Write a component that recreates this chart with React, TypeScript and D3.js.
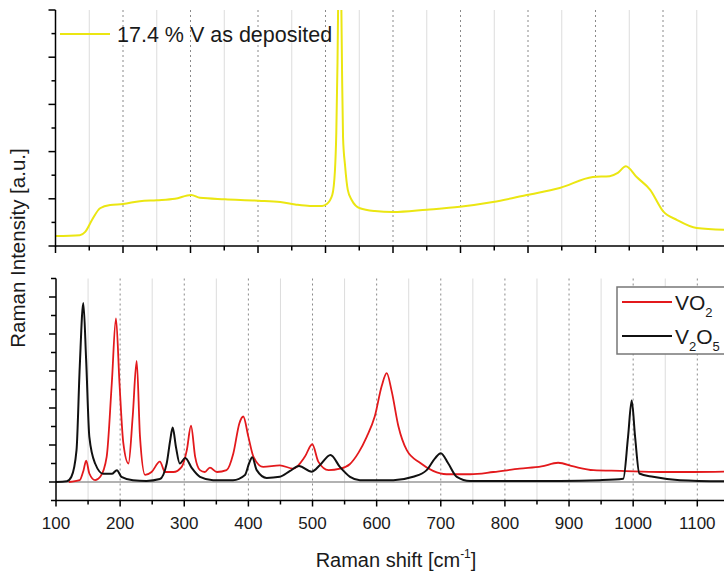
import React from "react";
import * as d3 from "d3";

// ---- Data ----
const sampleLabel = "17.4 % V as deposited";

// Top panel: as-deposited film (wavenumber cm^-1, intensity a.u.)
const depositedShift = [100, 136, 144, 154, 166, 181, 200, 225, 250, 277, 301, 314, 351, 401, 433, 455, 477, 495, 502, 510, 514, 516, 517.8, 518.8, 521.2, 523.4, 524.6, 526, 529, 533, 539, 551, 573, 600, 650, 699, 748, 798, 847, 896, 921, 933, 945, 961, 981, 1000, 1021, 1050, 1095];
const depositedIntensity = [0.21, 0.23, 0.3, 0.55, 0.8, 0.87, 0.89, 0.95, 0.97, 1.0, 1.08, 1.02, 0.99, 0.96, 0.93, 0.88, 0.85, 0.85, 0.89, 1.08, 1.6, 2.4, 3.9, 5.2, 7.5, 5.2, 3.6, 2.3, 1.7, 1.19, 0.97, 0.8, 0.74, 0.72, 0.77, 0.83, 0.93, 1.08, 1.23, 1.46, 1.48, 1.55, 1.69, 1.46, 1.19, 0.74, 0.55, 0.38, 0.34];

// Bottom panel: VO2 reference
const vo2Shift = [120, 137, 143, 147, 152, 161, 169, 179, 187, 193.5, 199, 205, 213, 219.6, 225.8, 231, 239, 249, 262, 270, 283, 296, 304, 310.5, 317, 324.5, 332, 340, 351, 366, 376.5, 386, 392, 400, 408, 423, 449, 470, 488, 499.6, 509, 525, 543, 558, 572, 584.5, 597, 608, 615.7, 623.5, 634, 647, 667.6, 688, 709, 746, 782, 823, 857, 883, 907, 938, 980, 1042, 1094, 1145];
const vo2Intensity = [0.0, 0.05, 0.32, 0.58, 0.23, 0.05, 0.14, 0.68, 2.67, 4.42, 2.67, 1.05, 0.5, 1.77, 3.27, 1.22, 0.19, 0.27, 0.55, 0.27, 0.27, 0.41, 0.86, 1.52, 0.68, 0.32, 0.27, 0.39, 0.27, 0.32, 0.77, 1.59, 1.77, 1.22, 0.68, 0.41, 0.45, 0.36, 0.68, 1.02, 0.55, 0.32, 0.36, 0.48, 0.8, 1.22, 1.77, 2.6, 2.94, 2.45, 1.5, 0.86, 0.52, 0.3, 0.21, 0.21, 0.27, 0.36, 0.42, 0.52, 0.42, 0.32, 0.3, 0.27, 0.27, 0.28];

// Bottom panel: V2O5 reference
const v2o5Shift = [100, 117, 124, 132, 137, 142.6, 147, 152, 161, 174, 187, 195, 202, 220, 241, 262, 272.6, 278, 282, 287, 293, 301.6, 311.6, 324.5, 345, 376, 394.7, 401, 406, 413, 428.5, 449, 465, 479, 498.7, 511.7, 528, 543, 558.5, 574, 626, 657, 678, 691, 700, 711.7, 725, 745.6, 886, 948, 984.6, 992, 997.7, 1003, 1009.6, 1031, 1073, 1145];
const v2o5Intensity = [0.0, 0.02, 0.14, 0.86, 3.1, 4.84, 3.3, 1.22, 0.5, 0.22, 0.22, 0.32, 0.14, 0.05, 0.03, 0.08, 0.5, 1.12, 1.47, 0.95, 0.5, 0.65, 0.38, 0.14, 0.05, 0.05, 0.19, 0.5, 0.67, 0.32, 0.11, 0.14, 0.3, 0.43, 0.28, 0.46, 0.73, 0.4, 0.14, 0.05, 0.05, 0.14, 0.32, 0.64, 0.78, 0.5, 0.14, 0.03, 0.03, 0.05, 0.09, 1.22, 2.2, 1.22, 0.23, 0.14, 0.05, 0.02];

const seriesNames = ["VO", "V", "O"];
const xTickLabels = [100, 200, 300, 400, 500, 600, 700, 800, 900, 1000, 1100];
const xMinorTicks = [150, 250, 350, 450, 550, 650, 750, 850, 950, 1050, 1150];
const topYMajor = [0, 1, 2, 3, 4, 5];
const topYMinor = [0.5, 1.5, 2.5, 3.5, 4.5];
const botYMajor = [0, 1, 2, 3, 4, 5];
const botYMinor = [-0.5, 0.5, 1.5, 2.5, 3.5, 4.5, 5.5];

const W = 724;
const H = 577;
const FONT = "'Liberation Sans', Arial, Helvetica, sans-serif";
const YELLOW = "#ebe612";
const RED = "#e3191c";
const BLACK = "#111111";

export default function App() {
  // scales
  const xTop = d3.scaleLinear().domain([100, 1100]).range([55.5, 55.5 + 675]);
  const yTop = d3.scaleLinear().domain([0, 5]).range([246, 10]);
  const xBot = d3.scaleLinear().domain([100, 1100]).range([56, 697.3]);
  const yBot = d3.scaleLinear().domain([-0.5, 5.5]).range([500.5, 278.5]);

  const topData = depositedShift.map((s, i) => [s, depositedIntensity[i]] as [number, number]);
  const vo2Data = vo2Shift.map((s, i) => [s, vo2Intensity[i]] as [number, number]);
  const v2o5Data = v2o5Shift.map((s, i) => [s, v2o5Intensity[i]] as [number, number]);

  const lineTop = d3
    .line<[number, number]>()
    .x((d) => xTop(d[0]))
    .y((d) => yTop(d[1]))
    .curve(d3.curveMonotoneX);
  const lineBot = d3
    .line<[number, number]>()
    .x((d) => xBot(d[0]))
    .y((d) => yBot(d[1]))
    .curve(d3.curveMonotoneX);

  const topBottomY = yTop(0);
  const topTopY = yTop(5);
  const botAxisY = yBot(-0.5);
  const botTopY = yBot(5.5);

  const gridTicksTop = xTickLabels.filter((v) => v > 100);
  const gridMinor = xMinorTicks;

  return (
    <svg
      width={W}
      height={H}
      style={{ position: "absolute", left: 0, top: 0, background: "#fff" }}
      fontFamily={FONT}
    >
      <defs>
        <clipPath id="clipTop">
          <rect x={xTop(100)} y={topTopY} width={W - xTop(100)} height={topBottomY - topTopY} />
        </clipPath>
        <clipPath id="clipBot">
          <rect x={xBot(100)} y={botTopY} width={W - xBot(100)} height={botAxisY - botTopY} />
        </clipPath>
      </defs>

      {/* ---------- TOP PANEL ---------- */}
      <g>
        {gridMinor.map((v) => (
          <line key={"tgm" + v} x1={xTop(v)} x2={xTop(v)} y1={topTopY} y2={topBottomY} stroke="#dcdcdc" strokeWidth={1} />
        ))}
        {gridTicksTop.map((v) => (
          <line key={"tg" + v} x1={xTop(v)} x2={xTop(v)} y1={topTopY} y2={topBottomY} stroke="#8a8a8a" strokeWidth={1} strokeDasharray="2,3" />
        ))}
        <path d={lineTop(topData) || ""} fill="none" stroke={YELLOW} strokeWidth={2} clipPath="url(#clipTop)" />
        {/* axes */}
        <line x1={xTop(100)} x2={xTop(100)} y1={topTopY} y2={topBottomY + 0.75} stroke="#000" strokeWidth={1.5} />
        <line x1={xTop(100)} x2={W} y1={topBottomY} y2={topBottomY} stroke="#000" strokeWidth={1.5} />
        {topYMajor.map((v) => (
          <line key={"tym" + v} x1={xTop(100) - 7} x2={xTop(100)} y1={yTop(v)} y2={yTop(v)} stroke="#000" strokeWidth={1.5} />
        ))}
        {topYMinor.map((v) => (
          <line key={"tyn" + v} x1={xTop(100) - 4} x2={xTop(100)} y1={yTop(v)} y2={yTop(v)} stroke="#000" strokeWidth={1.5} />
        ))}
        {xTickLabels.map((v) => (
          <line key={"txm" + v} x1={xTop(v)} x2={xTop(v)} y1={topBottomY} y2={topBottomY + 7} stroke="#000" strokeWidth={1.5} />
        ))}
        {xMinorTicks.map((v) => (
          <line key={"txn" + v} x1={xTop(v)} x2={xTop(v)} y1={topBottomY} y2={topBottomY + 4.5} stroke="#000" strokeWidth={1.5} />
        ))}
        {/* legend */}
        <line x1={60} x2={110} y1={34} y2={34} stroke={YELLOW} strokeWidth={2} />
        <text x={117} y={41.5} fontSize={21.5} fill="#1a1a1a">
          {sampleLabel}
        </text>
      </g>

      {/* ---------- BOTTOM PANEL ---------- */}
      <g>
        {gridMinor.map((v) => (
          <line key={"bgm" + v} x1={xBot(v)} x2={xBot(v)} y1={botTopY} y2={botAxisY} stroke="#dcdcdc" strokeWidth={1} />
        ))}
        {gridTicksTop.map((v) => (
          <line key={"bg" + v} x1={xBot(v)} x2={xBot(v)} y1={botTopY} y2={botAxisY} stroke="#8a8a8a" strokeWidth={1} strokeDasharray="2,3" />
        ))}
        <line x1={xBot(100)} x2={W} y1={yBot(0)} y2={yBot(0)} stroke="#999" strokeWidth={1.5} />
        <g clipPath="url(#clipBot)">
          <path d={lineBot(vo2Data) || ""} fill="none" stroke={RED} strokeWidth={1.8} />
          <path d={lineBot(v2o5Data) || ""} fill="none" stroke={BLACK} strokeWidth={2} />
        </g>
        {/* axes */}
        <line x1={xBot(100)} x2={xBot(100)} y1={botTopY} y2={botAxisY + 0.75} stroke="#000" strokeWidth={1.5} />
        <line x1={xBot(100)} x2={W} y1={botAxisY} y2={botAxisY} stroke="#000" strokeWidth={1.5} />
        {botYMajor.map((v) => (
          <line key={"bym" + v} x1={xBot(100) - 7} x2={xBot(100)} y1={yBot(v)} y2={yBot(v)} stroke="#000" strokeWidth={1.5} />
        ))}
        {botYMinor.map((v) => (
          <line key={"byn" + v} x1={xBot(100) - 5} x2={xBot(100)} y1={yBot(v)} y2={yBot(v)} stroke="#000" strokeWidth={1.5} />
        ))}
        {xTickLabels.map((v) => (
          <line key={"bxm" + v} x1={xBot(v)} x2={xBot(v)} y1={botAxisY} y2={botAxisY + 6} stroke="#000" strokeWidth={1.5} />
        ))}
        {xMinorTicks.map((v) => (
          <line key={"bxn" + v} x1={xBot(v)} x2={xBot(v)} y1={botAxisY} y2={botAxisY + 4} stroke="#000" strokeWidth={1.5} />
        ))}
        {xTickLabels.map((v) => (
          <text key={"bxl" + v} x={xBot(v)} y={528.5} fontSize={17} textAnchor="middle" fill="#1a1a1a">
            {v}
          </text>
        ))}
        {/* legend */}
        <rect x={617} y={287} width={110} height={67} fill="#fff" stroke="#777" strokeWidth={1.5} />
        <line x1={622} x2={672} y1={302} y2={302} stroke={RED} strokeWidth={2} />
        <line x1={622} x2={672} y1={336} y2={336} stroke={BLACK} strokeWidth={2} />
        <text x={675} y={310} fontSize={21} fill="#1a1a1a">
          {seriesNames[0]}
          <tspan fontSize={13} dy={7}>2</tspan>
        </text>
        <text x={675} y={344} fontSize={21} fill="#1a1a1a">
          {seriesNames[1]}
          <tspan fontSize={13} dy={7}>2</tspan>
          <tspan dy={-7}>{seriesNames[2]}</tspan>
          <tspan fontSize={13} dy={7}>5</tspan>
        </text>
      </g>

      {/* ---------- AXIS TITLES ---------- */}
      <text
        transform="translate(25,248) rotate(-90)"
        textAnchor="middle"
        fontSize={20.5}
        fill="#1a1a1a"
      >
        Raman Intensity [a.u.]
      </text>
      <text x={396} y={567} textAnchor="middle" fontSize={20} fill="#1a1a1a">
        Raman shift [cm
        <tspan fontSize={12} dy={-9}>-1</tspan>
        <tspan dy={9}>]</tspan>
      </text>
    </svg>
  );
}
